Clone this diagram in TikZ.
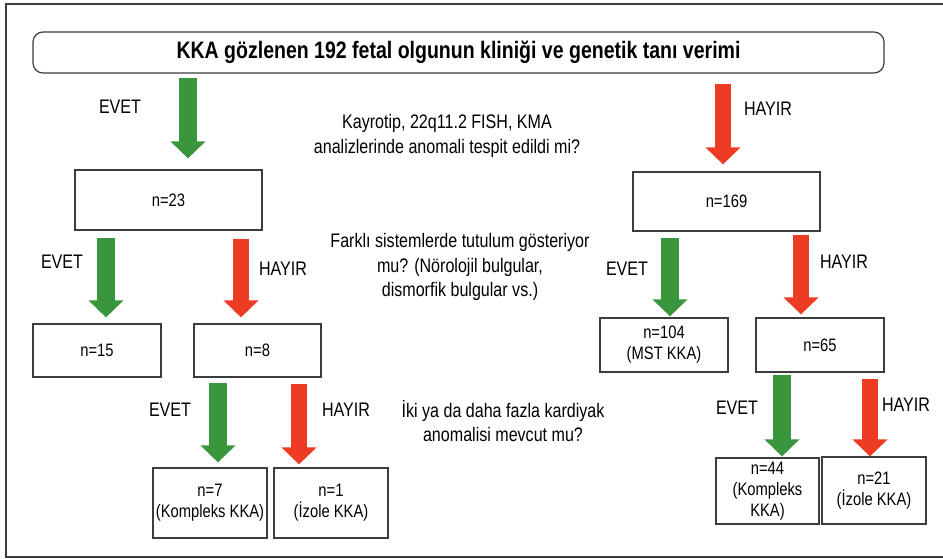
\documentclass[tikz,border=0pt]{standalone}
\usepackage{fontspec}
\setmainfont{Liberation Sans}[FakeStretch=0.82]
\usepackage{xcolor}
\usetikzlibrary{arrows.meta}
\definecolor{evetyesil}{RGB}{58,150,60}
\definecolor{hayirkirmizi}{RGB}{238,60,36}
\definecolor{cizgi}{RGB}{60,60,60}

\begin{document}
\begin{tikzpicture}[x=0.5pt,y=-0.5pt,
	kutu/.style={draw=cizgi,line width=0.6pt,align=center,inner sep=1pt,font=\fontsize{9}{10.5}\selectfont},
	etiket/.style={font=\fontsize{9.8}{12}\selectfont},
	soru/.style={align=center,font=\fontsize{9.8}{12.3}\selectfont},
	evetok/.style={evetyesil,line width=9pt,-{Triangle[length=8.5pt,width=17pt]}},
	hayirok/.style={hayirkirmizi,line width=8pt,-{Triangle[length=8.5pt,width=17pt]}}]
			\useasboundingbox (0,0) rectangle (943,558);
			% Çerçeve
			\draw[cizgi,line width=1pt] (943,4) -- (6,4) -- (6,557) -- (943,557);
			% Başlık
			\node[draw=cizgi,line width=0.6pt,rounded corners=5pt,minimum width=425.5pt,minimum height=20.5pt,font=\fontsize{11.9}{13}\selectfont\bfseries] (baslik) at (458.5,52.5) {KKA gözlenen 192 fetal olgunun kliniği ve genetik tanı verimi};
			% Kutular
			\node[kutu,minimum width=93.5pt,minimum height=30pt] (n23) at (168.5,200) {n=23};
			\node[kutu,minimum width=93.5pt,minimum height=29.5pt] (n169) at (726.5,201.5) {n=169};
			\node[kutu,minimum width=64pt,minimum height=26.5pt] (n15) at (97,350.5) {n=15};
			\node[kutu,minimum width=63.5pt,minimum height=26.5pt] (n8) at (257.5,350.5) {n=8};
			\node[kutu,minimum width=64pt,minimum height=27pt] (n104) at (664,345) {n=104\\(MST KKA)};
			\node[kutu,minimum width=64pt,minimum height=27pt] (n65) at (820,345) {n=65};
			\node[kutu,minimum width=57pt,minimum height=35pt] (n7) at (210,503) {n=7\\(Kompleks KKA)};
			\node[kutu,minimum width=57pt,minimum height=35pt] (n1) at (331,503) {n=1\\(İzole KKA)};
			\node[kutu,minimum width=51.5pt,minimum height=33pt] (n44) at (767.5,491) {n=44\\(Kompleks\\KKA)};
			\node[kutu,minimum width=52pt,minimum height=33.5pt] (n21) at (874,490.5) {n=21\\(İzole KKA)};
			% Sorular
			\node[soru] (soru1) at (447,136) {Kayrotip, 22q11.2 FISH, KMA\\analizlerinde anomali tespit edildi mi?};
			\node[soru] (soru2) at (460,267) {Farklı sistemlerde tutulum gösteriyor\\mu? (Nörolojil bulgular,\\dismorfik bulgular vs.)};
			\node[soru] (soru3) at (503,421) {İki ya da daha fazla kardiyak\\anomalisi mevcut mu?};
			% Oklar
			\draw[evetok,shorten <=2pt,shorten >=5.5pt] (baslik.south -| 188,0) -- (n23.north -| 188,0);
			\draw[hayirok,shorten <=5pt,shorten >=3.5pt] (baslik.south -| 723,0) -- (n169.north -| 723,0);
			\draw[evetok,shorten <=3.5pt,shorten >=3pt] (n23.south -| 106,0) -- (n15.north -| 106,0);
			\draw[hayirok,shorten <=4pt,shorten >=3pt] (n23.south -| 241,0) -- (n8.north -| 241,0);
			\draw[evetok,shorten <=3pt,shorten >=0.5pt] (n169.south -| 670,0) -- (n104.north -| 670,0);
			\draw[hayirok,shorten <=1.5pt,shorten >=1.5pt] (n169.south -| 801,0) -- (n65.north -| 801,0);
			\draw[evetok,shorten <=2.5pt,shorten >=2.5pt] (n8.south -| 218,0) -- (n7.north -| 218,0);
			\draw[hayirok,shorten <=3pt,shorten >=1.5pt] (n8.south -| 299,0) -- (n1.north -| 299,0);
			\draw[evetok,shorten <=1pt,shorten >=0.5pt] (n65.south -| 782,0) -- (n44.north -| 782,0);
			\draw[hayirok,shorten <=3pt] (n65.south -| 870,0) -- (n21.north -| 870,0);
			% Etiketler
			\node[etiket] (e1) at (120,107) {EVET};
			\node[etiket] (h1) at (768,109) {HAYIR};
			\node[etiket] (e2) at (62,262) {EVET};
			\node[etiket] (h2) at (283,269) {HAYIR};
			\node[etiket] (e3) at (627,269) {EVET};
			\node[etiket] (h3) at (844,262) {HAYIR};
			\node[etiket] (e4) at (170,410) {EVET};
			\node[etiket] (h4) at (346,410) {HAYIR};
			\node[etiket] (e5) at (737,408) {EVET};
			\node[etiket] (h5) at (906,405) {HAYIR};
		\end{tikzpicture}
\end{document}
